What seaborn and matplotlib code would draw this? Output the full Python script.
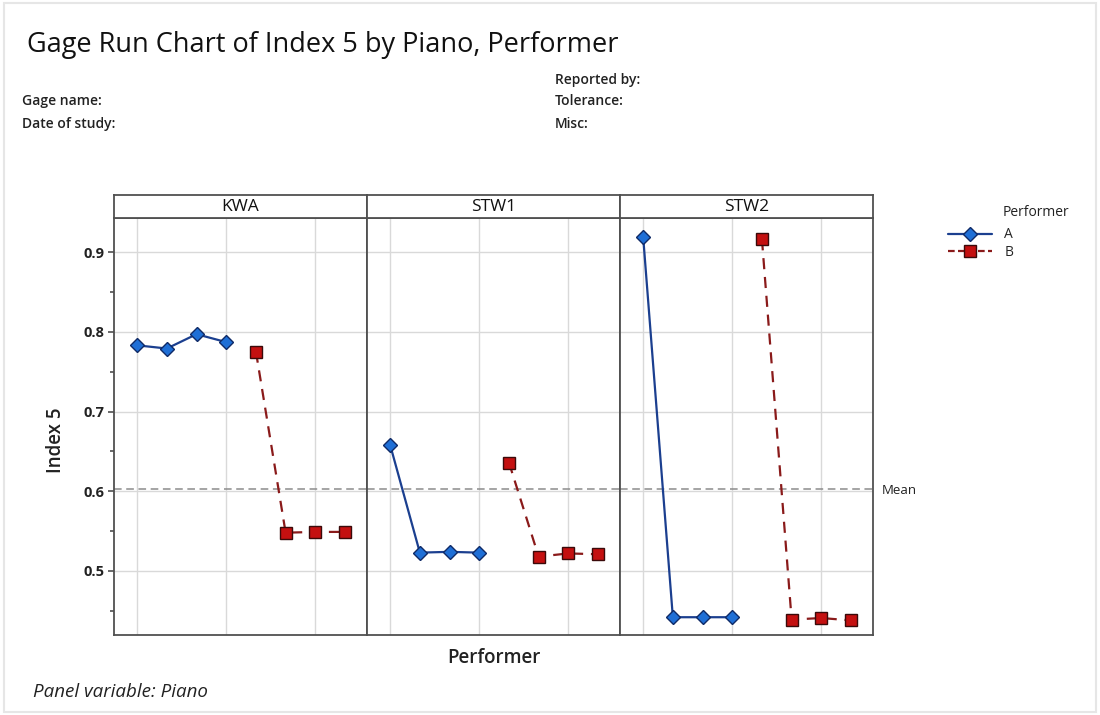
import numpy as np
import pandas as pd
import matplotlib
matplotlib.use("Agg")
import matplotlib.pyplot as plt
from matplotlib.patches import Rectangle
from matplotlib.lines import Line2D
from matplotlib.ticker import MultipleLocator
import seaborn as sns

# Measurements: four trials per performer on each piano
pianos = ["KWA", "STW1", "STW2"]
performers = ["A", "B"]
trials = [1, 2, 3, 4]

kwa_a = [0.783, 0.779, 0.797, 0.787]
kwa_b = [0.775, 0.548, 0.549, 0.549]
stw1_a = [0.658, 0.523, 0.524, 0.523]
stw1_b = [0.636, 0.518, 0.522, 0.521]
stw2_a = [0.919, 0.442, 0.442, 0.442]
stw2_b = [0.916, 0.439, 0.441, 0.438]

y_ticks = [0.5, 0.6, 0.7, 0.8, 0.9]

series = {
    ("KWA", "A"): kwa_a, ("KWA", "B"): kwa_b,
    ("STW1", "A"): stw1_a, ("STW1", "B"): stw1_b,
    ("STW2", "A"): stw2_a, ("STW2", "B"): stw2_b,
}
rows = []
for (piano, perf), vals in series.items():
    offset = performers.index(perf) * len(trials)
    for t, v in zip(trials, vals):
        rows.append({"Piano": piano, "Performer": perf,
                     "Order": offset + t, "Index 5": v})
df = pd.DataFrame(rows)
grand_mean = df["Index 5"].mean()

sns.set_theme(style="white")
plt.rcParams["font.family"] = ["Open Sans", "DejaVu Sans"]

fig = plt.figure(figsize=(11, 7.15), dpi=100)
W, H = 1100, 715

def fx(px):
    return px / W

def fy(py):
    return 1 - py / H

left_px, right_px = 114, 873
top_px, bottom_px, strip_top_px = 218, 635, 195
panel_w = (right_px - left_px) / 3

palette = {"A": "#1f6fd6", "B": "#c41010"}
line_col = {"A": "#1b3f8f", "B": "#8a1a1a"}
edge_col = {"A": "#0f2a66", "B": "#3a0a0a"}
markers = {"A": "D", "B": "s"}
msize = {"A": 7, "B": 8}
dash = {"A": "-", "B": (0, (5, 3.5))}

ylim = (0.4197, 0.9427)
xlim = (0.22, 8.74)
grid_col = "#d9d9d9"
spine_col = "#505050"

axes = []
for i, piano in enumerate(pianos):
    x0 = left_px + i * panel_w
    ax = fig.add_axes([fx(x0), fy(bottom_px), fx(panel_w),
                       (bottom_px - top_px) / H])
    axes.append(ax)
    sub = df[df["Piano"] == piano]

    for x in [1, 4, 7]:
        ax.axvline(x, color=grid_col, lw=1.0, zorder=0)
    for y in y_ticks:
        ax.axhline(y, color=grid_col, lw=1.0, zorder=0)
    ax.axhline(grand_mean, color="#8c8c8c", lw=1.1, ls=(0, (5, 3)), zorder=1)

    for perf in performers:
        d = sub[sub["Performer"] == perf]
        sns.lineplot(data=d, x="Order", y="Index 5", ax=ax,
                     color=line_col[perf], lw=1.6, linestyle=dash[perf],
                     marker=markers[perf], markersize=msize[perf],
                     markerfacecolor=palette[perf],
                     markeredgecolor=edge_col[perf], markeredgewidth=1.0,
                     legend=False, zorder=3)

    ax.set_xlim(*xlim)
    ax.set_ylim(*ylim)
    ax.set_xticks([])
    ax.set_xlabel("")
    ax.set_ylabel("")
    for s in ax.spines.values():
        s.set_color(spine_col)
        s.set_linewidth(1.3)
    if i == 0:
        ax.yaxis.set_major_locator(MultipleLocator(0.1))
        ax.yaxis.set_minor_locator(MultipleLocator(0.05))
        ax.set_yticks(y_ticks)
        ax.tick_params(axis="y", which="major", left=True, length=4,
                       width=1.2, color=spine_col, labelsize=10.5, pad=3)
        ax.tick_params(axis="y", which="minor", left=True, length=3,
                       width=1.2, color=spine_col)
        for lab in ax.get_yticklabels():
            lab.set_fontweight("bold")
            lab.set_color("#222222")
    else:
        ax.set_yticks([])

    # panel strip with piano name
    sax = fig.add_axes([fx(x0), fy(top_px), fx(panel_w),
                        (top_px - strip_top_px) / H])
    sax.set_xticks([])
    sax.set_yticks([])
    sax.set_facecolor("white")
    for s in sax.spines.values():
        s.set_color(spine_col)
        s.set_linewidth(1.3)
    sax.text(0.5, 0.48, piano, ha="center", va="center", fontsize=12.5,
             color="#111111", transform=sax.transAxes)

# Mean label
fig.text(fx(882), fy(490), "Mean", ha="left", va="center", fontsize=9.5,
         color="#222222")

# Axis labels
fig.text(fx((left_px + right_px) / 2), fy(658), "Performer", ha="center",
         va="center", fontsize=13.5, fontweight="semibold", color="#222222")
fig.text(fx(56), fy(440), "Index 5", ha="center", va="center", rotation=90,
         fontsize=13.5, fontweight="semibold", color="#222222")

# Title and header block
fig.text(fx(27), fy(45), "Gage Run Chart of Index 5 by Piano, Performer",
         ha="left", va="center", fontsize=19.5, color="#111111")
hdr = dict(ha="left", va="center", fontsize=10, fontweight="semibold",
           color="#222222")
fig.text(fx(22), fy(101), "Gage name:", **hdr)
fig.text(fx(22), fy(124), "Date of study:", **hdr)
fig.text(fx(555), fy(80), "Reported by:", **hdr)
fig.text(fx(555), fy(101), "Tolerance:", **hdr)
fig.text(fx(555), fy(124), "Misc:", **hdr)

fig.text(fx(33), fy(692), "Panel variable: Piano", ha="left", va="center",
         fontsize=13.5, style="italic", color="#222222")

# Legend
fig.text(fx(1003), fy(213), "Performer", ha="left", va="center",
         fontsize=10, color="#222222")
handles = [Line2D([0], [0], color=line_col[p], lw=1.6,
                  linestyle="-" if p == "A" else (0, (3, 1.5)),
                  marker=markers[p], markersize=msize[p],
                  markerfacecolor=palette[p], markeredgecolor=edge_col[p])
           for p in performers]
leg = fig.legend(handles, performers, loc="upper left",
                 bbox_to_anchor=(fx(935), fy(215)),
                 frameon=False, fontsize=10,
                 handlelength=3.2, handletextpad=0.9, labelspacing=0.2)

# light frame around the figure
fig.patches.append(Rectangle((0.004, 0.004), 0.992, 0.992,
                             transform=fig.transFigure, fill=False,
                             edgecolor="#e6e6e6", lw=1.5))

fig.savefig("out.png", dpi=100, facecolor="white")
